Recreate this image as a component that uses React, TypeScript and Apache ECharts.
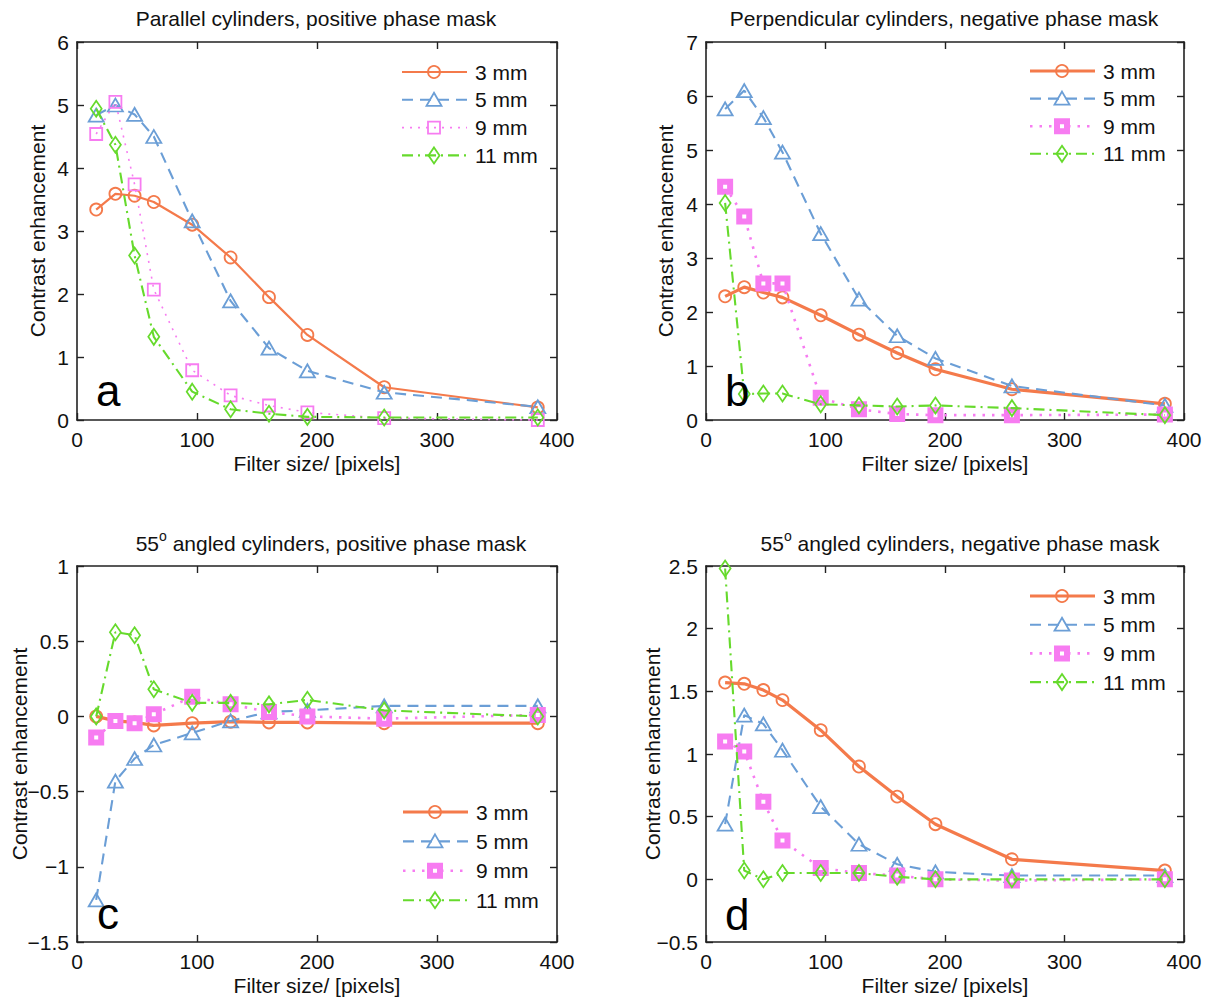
import React, { useEffect, useRef } from "react";
import * as echarts from "echarts";

// ---------- data ----------
const xValues = [16, 32, 48, 64, 96, 128, 160, 192, 256, 384];
const seriesNames = ["3 mm", "5 mm", "9 mm", "11 mm"];
const seriesColors = ["#F47A4B", "#6B9ED6", "#F77CF1", "#66DA2C"];
const panelLetters = ["a", "b", "c", "d"];
const panelTitles = [
  "Parallel cylinders, positive phase mask",
  "Perpendicular cylinders, negative phase mask",
  "55{sup|o} angled cylinders, positive phase mask",
  "55{sup|o} angled cylinders, negative phase mask",
];
const xAxisName = "Filter size/ [pixels]";
const yAxisName = "Contrast enhancement";
const xTickMin = 0;
const xTickMax = 400;
const xTickStep = 100;
const yTickMins = [0, 0, -1.5, -0.5];
const yTickMaxs = [6, 7, 1, 2.5];
const yTickSteps = [1, 1, 0.5, 0.5];

// panel a: parallel cylinders, positive phase mask
const a3mm = [3.34, 3.59, 3.56, 3.46, 3.1, 2.58, 1.95, 1.35, 0.52, 0.2];
const a5mm = [4.84, 5.0, 4.85, 4.5, 3.16, 1.89, 1.14, 0.78, 0.44, 0.21];
const a9mm = [4.54, 5.05, 3.74, 2.07, 0.79, 0.39, 0.23, 0.12, 0.03, 0.0];
const a11mm = [4.94, 4.37, 2.61, 1.32, 0.45, 0.17, 0.1, 0.05, 0.04, 0.04];

// panel b: perpendicular cylinders, negative phase mask
const b3mm = [2.29, 2.46, 2.36, 2.27, 1.94, 1.58, 1.24, 0.94, 0.57, 0.3];
const b5mm = [5.76, 6.1, 5.6, 4.96, 3.45, 2.24, 1.56, 1.14, 0.63, 0.27];
const b9mm = [4.32, 3.77, 2.53, 2.53, 0.41, 0.2, 0.11, 0.09, 0.09, 0.1];
const b11mm = [4.02, 0.48, 0.49, 0.49, 0.29, 0.27, 0.25, 0.27, 0.22, 0.09];

// panel c: 55 deg angled cylinders, positive phase mask
const c3mm = [0.0, -0.03, -0.04, -0.06, -0.045, -0.035, -0.04, -0.04, -0.045, -0.045];
const c5mm = [-1.22, -0.43, -0.28, -0.19, -0.11, -0.03, 0.03, 0.04, 0.07, 0.07];
const c9mm = [-0.14, -0.03, -0.045, 0.015, 0.13, 0.08, 0.03, 0.0, -0.015, 0.01];
const c11mm = [0.0, 0.56, 0.54, 0.18, 0.09, 0.09, 0.08, 0.11, 0.04, 0.0];

// panel d: 55 deg angled cylinders, negative phase mask
const d3mm = [1.57, 1.56, 1.51, 1.43, 1.19, 0.9, 0.66, 0.44, 0.16, 0.07];
const d5mm = [0.44, 1.31, 1.24, 1.03, 0.58, 0.28, 0.12, 0.06, 0.03, 0.03];
const d9mm = [1.1, 1.02, 0.62, 0.31, 0.09, 0.05, 0.03, 0.0, -0.01, 0.0];
const d11mm = [2.48, 0.07, 0.0, 0.05, 0.05, 0.05, 0.02, 0.0, 0.0, 0.0];

const panelValues = [
  [a3mm, a5mm, a9mm, a11mm],
  [b3mm, b5mm, b9mm, b11mm],
  [c3mm, c5mm, c9mm, c11mm],
  [d3mm, d5mm, d9mm, d11mm],
];

// ---------- layout / style ----------
const FONT = '"Liberation Sans", Arial, sans-serif';
const AXIS_COLOR = "#222";
const TEXT_COLOR = "#111";
const FS = 21;

const grids = [
  { left: 77, top: 42, width: 480, height: 378 },
  { left: 706, top: 42, width: 478, height: 378 },
  { left: 77, top: 566, width: 480, height: 376 },
  { left: 706, top: 566, width: 478, height: 376 },
];
const titlePos = [
  { x: 316, y: 4 },
  { x: 944, y: 4 },
  { x: 331, y: 529 },
  { x: 960, y: 529 },
];
const yNameGaps = [29, 30, 47, 43];
const letterPos = [
  { x: 96, y: 412 },
  { x: 725, y: 412 },
  { x: 97, y: 935 },
  { x: 725, y: 936 },
];
const legendPos = [
  { x: 402, y: 72, dy: 27.8 },
  { x: 1030, y: 71, dy: 27.6 },
  { x: 403, y: 812, dy: 29.4 },
  { x: 1030, y: 596, dy: 28.7 },
];

const symbols = ["circle", "triangle", "rect", "diamond"];

function styleFor(s: number, p: number) {
  const thick = p > 0;
  const lineWidth = s === 0 ? (thick ? 3.2 : 2.2) : s === 2 ? (thick ? 2.6 : 1.6) : 2.1;
  const lineDash: any =
    s === 0 ? null : s === 1 ? [11, 7] : s === 2 ? (thick ? [2.5, 7] : [2, 6]) : [11, 5, 2, 5];
  const symbolSize: any =
    s === 0 ? 12 : s === 1 ? [15, 13] : s === 2 ? (thick ? 10 : 12) : [11, 16];
  const borderWidth = s === 2 && thick ? 6 : 1.8;
  const fill = s === 2 && thick ? "#ffffff" : "rgba(255,255,255,0)";
  return { lineWidth, lineDash, symbolSize, borderWidth, fill };
}

function fmtNum(v: number) {
  return v < 0 ? "\u2212" + String(Math.abs(v)) : String(v);
}

function legendGraphics(p: number) {
  const els: any[] = [];
  const { x, y, dy } = legendPos[p];
  seriesNames.forEach((name, s) => {
    const cy = y + s * dy;
    const color = seriesColors[s];
    const st = styleFor(s, p);
    const cx = x + 32;
    els.push({
      type: "line",
      shape: { x1: x, y1: cy, x2: x + 65, y2: cy },
      style: { stroke: color, lineWidth: st.lineWidth, lineDash: st.lineDash || undefined },
      z: 100,
    });
    const mstyle = { stroke: color, lineWidth: st.borderWidth, fill: st.fill };
    if (s === 0) {
      els.push({ type: "circle", shape: { cx, cy, r: 6 }, style: mstyle, z: 101 });
    } else if (s === 1) {
      els.push({
        type: "polygon",
        shape: { points: [[cx, cy - 7], [cx + 7.5, cy + 6], [cx - 7.5, cy + 6]] },
        style: mstyle,
        z: 101,
      });
    } else if (s === 2) {
      const h = (st.symbolSize as number) / 2;
      els.push({
        type: "rect",
        shape: { x: cx - h, y: cy - h, width: 2 * h, height: 2 * h },
        style: mstyle,
        z: 101,
      });
    } else {
      els.push({
        type: "polygon",
        shape: { points: [[cx, cy - 8], [cx + 5.5, cy], [cx, cy + 8], [cx - 5.5, cy]] },
        style: mstyle,
        z: 101,
      });
    }
    els.push({
      type: "text",
      x: x + 73,
      y: cy,
      style: {
        text: name,
        fill: TEXT_COLOR,
        fontSize: FS,
        fontFamily: FONT,
        verticalAlign: "middle",
        align: "left",
      },
      z: 101,
    });
  });
  return els;
}

function buildOption() {
  const xAxes: any[] = [];
  const yAxes: any[] = [];
  const series: any[] = [];
  const titles: any[] = [];
  const graphics: any[] = [];

  const axisLine = { show: true, onZero: false, lineStyle: { color: AXIS_COLOR, width: 1.6 } };
  const axisTick = { show: true, inside: true, length: 7, lineStyle: { color: AXIS_COLOR, width: 1.4 } };

  grids.forEach((g, p) => {
    xAxes.push({
      gridIndex: p,
      type: "value",
      position: "bottom",
      min: xTickMin,
      max: xTickMax,
      interval: xTickStep,
      axisLine,
      axisTick,
      splitLine: { show: false },
      axisLabel: { color: TEXT_COLOR, fontSize: FS, fontFamily: FONT, margin: 9 },
      name: xAxisName,
      nameLocation: "middle",
      nameGap: 33,
      nameMoveOverlap: false,
      nameTextStyle: { color: TEXT_COLOR, fontSize: FS, fontFamily: FONT },
    });
    xAxes.push({
      gridIndex: p,
      type: "value",
      position: "top",
      min: xTickMin,
      max: xTickMax,
      interval: xTickStep,
      axisLine,
      axisTick,
      splitLine: { show: false },
      axisLabel: { show: false },
    });
    yAxes.push({
      gridIndex: p,
      type: "value",
      position: "left",
      min: yTickMins[p],
      max: yTickMaxs[p],
      interval: yTickSteps[p],
      axisLine,
      axisTick,
      splitLine: { show: false },
      axisLabel: {
        color: TEXT_COLOR,
        fontSize: FS,
        fontFamily: FONT,
        margin: 8,
        formatter: (v: number) => fmtNum(v),
      },
      name: yAxisName,
      nameLocation: "middle",
      nameGap: yNameGaps[p],
      nameMoveOverlap: false,
      nameRotate: 90,
      nameTextStyle: { color: TEXT_COLOR, fontSize: FS, fontFamily: FONT },
    });
    yAxes.push({
      gridIndex: p,
      type: "value",
      position: "right",
      min: yTickMins[p],
      max: yTickMaxs[p],
      interval: yTickSteps[p],
      axisLine,
      axisTick,
      splitLine: { show: false },
      axisLabel: { show: false },
    });

    seriesNames.forEach((name, s) => {
      const st = styleFor(s, p);
      const vals = panelValues[p][s];
      series.push({
        type: "line",
        name,
        xAxisIndex: 2 * p,
        yAxisIndex: 2 * p,
        data: xValues.map((x, i) => [x, vals[i]]),
        symbol: symbols[s],
        symbolSize: st.symbolSize,
        showAllSymbol: true,
        clip: false,
        lineStyle: {
          color: seriesColors[s],
          width: st.lineWidth,
          type: st.lineDash || "solid",
        },
        itemStyle: {
          color: st.fill,
          borderColor: seriesColors[s],
          borderWidth: st.borderWidth,
        },
        emphasis: { disabled: true },
        z: 2 + s,
      });
    });

    titles.push({
      text: panelTitles[p],
      left: titlePos[p].x,
      top: titlePos[p].y,
      textAlign: "center",
      padding: 0,
      textStyle: {
        color: TEXT_COLOR,
        fontSize: FS,
        fontWeight: "normal",
        fontFamily: FONT,
        lineHeight: 28,
        rich: {
          sup: { fontSize: 14, fontFamily: FONT, color: TEXT_COLOR, verticalAlign: "top", lineHeight: 14 },
        },
      },
    });

    graphics.push({
      type: "text",
      x: letterPos[p].x,
      y: letterPos[p].y,
      style: {
        text: panelLetters[p],
        fill: "#000",
        fontSize: 44,
        fontFamily: FONT,
        verticalAlign: "bottom",
        align: "left",
      },
      z: 100,
    });
    graphics.push(...legendGraphics(p));
  });

  return {
    animation: false,
    backgroundColor: "#ffffff",
    textStyle: { fontFamily: FONT },
    title: titles,
    grid: grids.map((g) => ({ ...g, containLabel: false })),
    xAxis: xAxes,
    yAxis: yAxes,
    series,
    graphic: graphics,
  };
}

export default function App() {
  const ref = useRef<HTMLDivElement>(null);
  useEffect(() => {
    if (!ref.current) return;
    const chart = echarts.init(ref.current, undefined, { renderer: "svg" });
    chart.setOption(buildOption() as any);
    return () => chart.dispose();
  }, []);
  return (
    <div
      ref={ref}
      style={{ position: "fixed", left: 0, top: 0, width: 1213, height: 1001, background: "#fff" }}
    />
  );
}
